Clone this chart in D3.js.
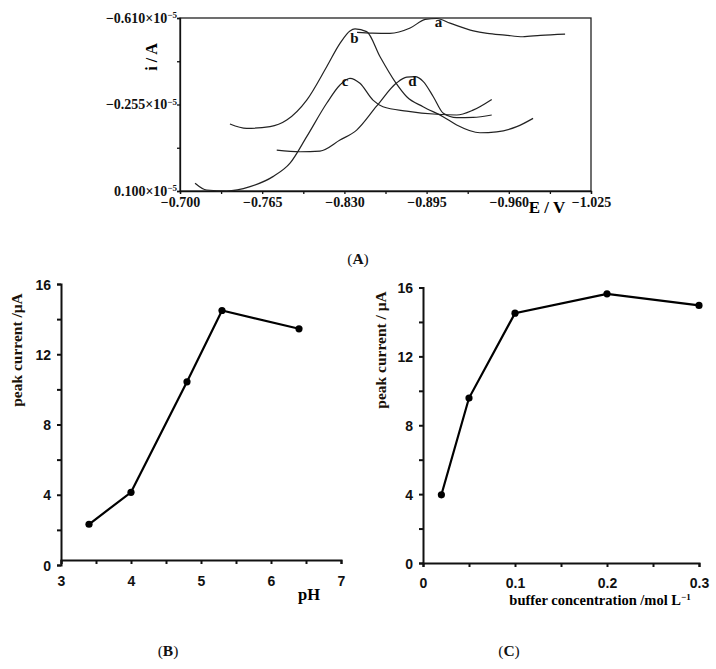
<!DOCTYPE html>
<html>
<head>
<meta charset="utf-8">
<script src="https://cdn.jsdelivr.net/npm/d3@7"></script>
<style>
  body { margin: 0; background: #fff; }
  svg { display: block; }
  .serif { font-family: "Liberation Serif", "DejaVu Serif", serif; font-weight: bold; }
  .sans { font-family: "Liberation Sans", Arial, sans-serif; font-weight: bold; }
</style>
</head>
<body>
<svg id="fig" width="716" height="669"></svg>
<script>
// ---- panel A : voltammograms (E in V, i in 1e-5 A) ----
var curveA_E = [-0.840, -0.852, -0.866, -0.882, -0.894, -0.903, -0.9135, -0.932, -0.943, -0.957, -0.971, -0.985, -1.0045];
var curveA_i = [-0.551, -0.548, -0.547, -0.569, -0.604, -0.608, -0.589, -0.557, -0.547, -0.540, -0.533, -0.539, -0.544];
var curveB_E = [-0.7395, -0.7527, -0.7712, -0.7844, -0.8002, -0.816, -0.8265, -0.8344, -0.8384, -0.8476, -0.8582, -0.870, -0.8793, -0.8922, -0.908, -0.9188, -0.9372, -0.9504, -0.9663, -0.9792];
var curveB_i = [-0.175, -0.157, -0.164, -0.191, -0.273, -0.410, -0.506, -0.557, -0.565, -0.554, -0.451, -0.349, -0.287, -0.246, -0.205, -0.171, -0.139, -0.143, -0.164, -0.198];
var curveC_E = [-0.7119, -0.7211, -0.7369, -0.7554, -0.7735, -0.787, -0.8002, -0.816, -0.8265, -0.8344, -0.8423, -0.8526, -0.8605, -0.8793, -0.903, -0.9188, -0.9317, -0.9465];
var curveC_i = [0.068, 0.096, 0.100, 0.082, 0.041, -0.014, -0.123, -0.260, -0.335, -0.3625, -0.342, -0.273, -0.246, -0.228, -0.215, -0.212, -0.232, -0.276];
var curveD_E = [-0.7765, -0.7949, -0.8107, -0.8265, -0.8397, -0.8556, -0.8714, -0.8793, -0.8858, -0.8924, -0.9003, -0.9082, -0.9188, -0.9317, -0.9465];
var curveD_i = [-0.068, -0.061, -0.064, -0.109, -0.150, -0.249, -0.344, -0.367, -0.369, -0.349, -0.287, -0.219, -0.201, -0.202, -0.212];
var curveNames = ["a", "b", "c", "d"];
var curveLabelE = [-0.9045, -0.838, -0.8305, -0.8837];
var curveLabelI = [-0.574, -0.508, -0.330, -0.332];
var ticksA_x = [-0.700, -0.765, -0.830, -0.895, -0.960, -1.025];
var ticksA_y = [-0.610, -0.255, 0.100];

// ---- panel B : pH ----
var pH = [3.4, 4.0, 4.8, 5.3, 6.4];
var currentB = [2.32, 4.14, 10.43, 14.49, 13.45];
var ticksB_x = [3, 4, 5, 6, 7];

// ---- panel C : buffer concentration ----
var bufferConc = [0.02, 0.05, 0.1, 0.2, 0.3];
var currentC = [3.96, 9.58, 14.51, 15.63, 14.96];
var ticksC_x = [0, 0.1, 0.2, 0.3];
var ticksCurrent = [0, 4, 8, 12, 16];

var svg = d3.select("#fig");

function styleAxis(g, w) {
  g.selectAll(".domain").attr("stroke", "#111").attr("stroke-width", w);
  g.selectAll(".tick line").attr("stroke", "#111").attr("stroke-width", w);
  g.selectAll("text").attr("fill", "#111");
}

// ================= panel A =================
var xA = d3.scaleLinear().domain([-0.700, -1.025]).range([180, 591]);
var yA = d3.scaleLinear().domain([0.100, -0.610]).range([191, 18]);

var gA = svg.append("g");
gA.append("rect").attr("x", 180).attr("y", 18).attr("width", 411).attr("height", 173)
  .attr("fill", "none").attr("stroke", "#222").attr("stroke-width", 1.3);

var fmtA = function (v) { return (v < 0 ? "\u2212" : "") + Math.abs(v).toFixed(3); };

var xAxisA = gA.append("g").attr("transform", "translate(0,191)")
  .call(d3.axisBottom(xA).tickValues(d3.range(11).map(function (k) { return -0.700 - k * 0.0325; }))
    .tickSize(3).tickPadding(3)
    .tickFormat(function (v) {
      var hit = ticksA_x.find(function (t) { return Math.abs(t - v) < 1e-6; });
      return hit === undefined ? "" : fmtA(hit);
    }));
xAxisA.attr("class", "serif").attr("font-size", 14);
styleAxis(xAxisA, 1.3);

var yAxisA = gA.append("g").attr("transform", "translate(180,0)")
  .call(d3.axisLeft(yA).tickValues(d3.range(5).map(function (k) { return -0.610 + k * 0.1775; }))
    .tickSize(3).tickPadding(2).tickFormat(""));
styleAxis(yAxisA, 1.3);
yAxisA.selectAll(".tick").each(function (v) {
  var hit = ticksA_y.find(function (t) { return Math.abs(t - v) < 1e-6; });
  if (hit === undefined) return;
  var t = d3.select(this).select("text").attr("class", "serif").attr("font-size", 14)
    .attr("x", -3).attr("dy", "0.32em");
  t.append("tspan").text(fmtA(hit) + "\u00d710");
  t.append("tspan").attr("font-size", 9).attr("dy", "-0.55em").text("\u22125");
});

gA.append("text").attr("class", "serif").attr("font-size", 16)
  .attr("transform", "translate(157,57) rotate(-90)").attr("text-anchor", "middle")
  .text("i / A");
gA.append("text").attr("class", "serif").attr("font-size", 17)
  .attr("x", 547).attr("y", 213).attr("text-anchor", "middle").text("E / V");

var lineA = d3.line().x(function (d) { return xA(d[0]); }).y(function (d) { return yA(d[1]); })
  .curve(d3.curveMonotoneX);
var curveSets = [[curveA_E, curveA_i], [curveB_E, curveB_i], [curveC_E, curveC_i], [curveD_E, curveD_i]];
curveSets.forEach(function (c) {
  gA.append("path").datum(d3.zip(c[0], c[1])).attr("d", lineA)
    .attr("fill", "none").attr("stroke", "#222").attr("stroke-width", 1.2);
});
curveNames.forEach(function (n, k) {
  gA.append("text").attr("class", "serif").attr("font-size", 15)
    .attr("x", xA(curveLabelE[k])).attr("y", yA(curveLabelI[k]))
    .attr("text-anchor", "middle").attr("fill", "#111").text(n);
});

// ================= panels B and C =================
function drawPanel(opts) {
  var x = opts.x, y = opts.y;
  var g = svg.append("g");
  var xAxis = g.append("g").attr("transform", "translate(0," + opts.xAxisY + ")")
    .call(d3.axisBottom(x).tickValues(opts.xMinor).tickSize(4).tickPadding(opts.xPad)
      .tickFormat(function (v) {
        var hit = opts.xTicks.find(function (t) { return Math.abs(t - v) < 1e-9; });
        return hit === undefined ? "" : String(hit);
      }));
  xAxis.attr("class", "sans").attr("font-size", 14);
  styleAxis(xAxis, 2);
  var yAxis = g.append("g").attr("transform", "translate(" + x.range()[0] + ",0)")
    .call(d3.axisLeft(y).tickValues(d3.range(0, 17, 2)).tickSize(4).tickPadding(6)
      .tickFormat(function (v) { return ticksCurrent.indexOf(v) >= 0 ? String(v) : ""; }));
  yAxis.attr("class", "sans").attr("font-size", 14);
  styleAxis(yAxis, 2);
  yAxis.selectAll(".tick text").attr("dy", "0.36em");

  var line = d3.line().x(function (d) { return x(d[0]); }).y(function (d) { return y(d[1]); });
  var pts = d3.zip(opts.xs, opts.ys);
  g.append("path").datum(pts).attr("d", line).attr("fill", "none")
    .attr("stroke", "#000").attr("stroke-width", 2.2);
  g.selectAll("circle").data(pts).join("circle")
    .attr("cx", function (d) { return x(d[0]); }).attr("cy", function (d) { return y(d[1]); })
    .attr("r", 3.6).attr("fill", "#000");

  g.append("text").attr("class", "serif").attr("font-size", 15.5).attr("fill", "#1a1208")
    .attr("transform", "translate(" + opts.yLabelX + ",350) rotate(-90)")
    .attr("text-anchor", "middle").text(opts.yLabel);
  return g;
}

var xB = d3.scaleLinear().domain([3, 7]).range([61, 341]);
var yB = d3.scaleLinear().domain([0, 16]).range([565, 284]);
var gB = drawPanel({
  x: xB, y: yB, xAxisY: 560, xPad: 12, xs: pH, ys: currentB,
  xTicks: ticksB_x, xMinor: d3.range(3, 7.01, 0.5),
  yLabel: "peak current  /\u03bcA", yLabelX: 22
});
gB.append("text").attr("class", "serif").attr("font-size", 16.5)
  .attr("x", 309).attr("y", 600).attr("text-anchor", "middle").text("pH");

var xC = d3.scaleLinear().domain([0, 0.3]).range([423, 699]);
var yC = d3.scaleLinear().domain([0, 16]).range([563, 287.5]);
var gC = drawPanel({
  x: xC, y: yC, xAxisY: 563, xPad: 11, xs: bufferConc, ys: currentC,
  xTicks: ticksC_x, xMinor: d3.range(0, 0.301, 0.05).map(function (v) { return +v.toFixed(2); }),
  yLabel: "peak current / \u03bcA", yLabelX: 386
});
var lblC = gC.append("text").attr("class", "serif").attr("font-size", 14.5)
  .attr("x", 600).attr("y", 605).attr("text-anchor", "middle");
lblC.append("tspan").text("buffer concentration /mol L");
lblC.append("tspan").attr("font-size", 9).attr("dy", "-0.6em").text("\u22121");

// ---- panel captions ----
[["A", 358, 264], ["B", 168, 656], ["C", 509, 656]].forEach(function (c) {
  var t = svg.append("text").attr("x", c[1]).attr("y", c[2]).attr("text-anchor", "middle")
    .attr("font-family", "Liberation Serif, serif").attr("font-size", 15.5).attr("fill", "#111");
  t.append("tspan").text("(");
  t.append("tspan").attr("font-weight", "bold").text(c[0]);
  t.append("tspan").text(")");
});
</script>
</body>
</html>
